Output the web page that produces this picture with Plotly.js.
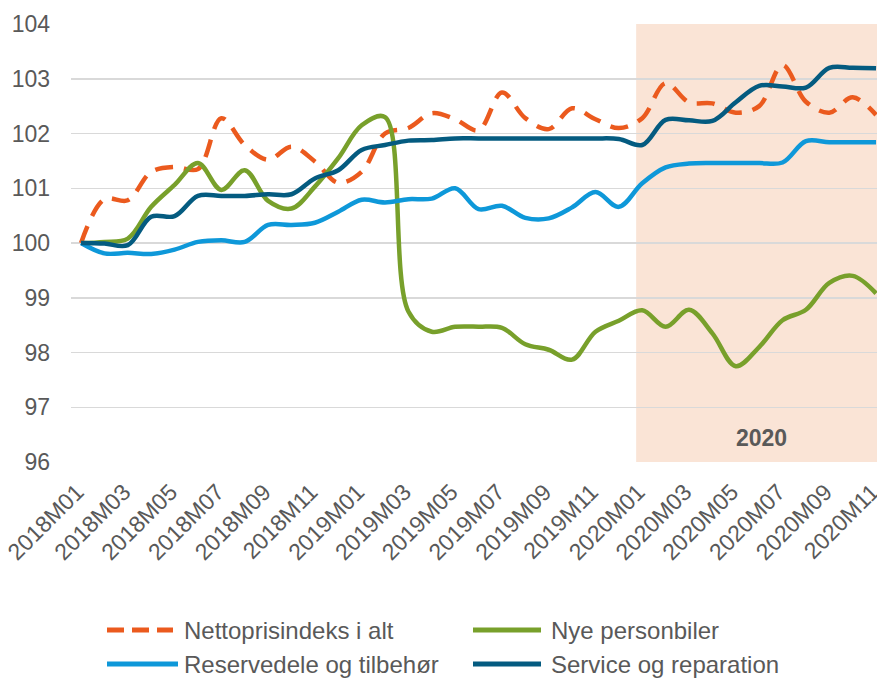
<!DOCTYPE html>
<html>
<head>
<meta charset="utf-8">
<script src="https://cdn.plot.ly/plotly-3.0.1.min.js"></script>
<style>html,body{margin:0;padding:0;background:#fff;}#chart{width:877px;height:679px;}</style>
</head>
<body>
<div id="chart"></div>
<script>
var months = ["2018M01","2018M02","2018M03","2018M04","2018M05","2018M06","2018M07","2018M08","2018M09","2018M10","2018M11","2018M12",
              "2019M01","2019M02","2019M03","2019M04","2019M05","2019M06","2019M07","2019M08","2019M09","2019M10","2019M11","2019M12",
              "2020M01","2020M02","2020M03","2020M04","2020M05","2020M06","2020M07","2020M08","2020M09","2020M10","2020M11"];
var tickLabels = ["2018M01","2018M03","2018M05","2018M07","2018M09","2018M11","2019M01","2019M03","2019M05","2019M07","2019M09","2019M11",
                  "2020M01","2020M03","2020M05","2020M07","2020M09","2020M11"];
var seriesNames = ["Nettoprisindeks i alt","Nye personbiler","Reservedele og tilbehør","Service og reparation"];
var nettopris = [100, 100.8, 100.78, 101.3, 101.39, 101.35, 102.28, 101.79, 101.52, 101.76, 101.49, 101.1,
                 101.3, 102.0, 102.1, 102.37, 102.26, 102.06, 102.75, 102.28, 102.08, 102.46, 102.26, 102.1,
                 102.28, 102.92, 102.57, 102.55, 102.38, 102.5, 103.25, 102.58, 102.38, 102.66, 102.34];
var nyePersonbiler = [100, 100.02, 100.08, 100.66, 101.06, 101.46, 100.97, 101.33, 100.77, 100.63, 101.03, 101.55,
                      102.15, 102.3, 98.75, 98.38, 98.47, 98.47, 98.45, 98.15, 98.05, 97.87, 98.38, 98.58,
                      98.77, 98.47, 98.78, 98.35, 97.75, 98.1, 98.59, 98.78, 99.27, 99.4, 99.08];
var reservedele = [100, 99.81, 99.82, 99.8, 99.88, 100.02, 100.05, 100.02, 100.33, 100.33, 100.37, 100.57,
                   100.79, 100.74, 100.8, 100.81, 101.0, 100.62, 100.68, 100.46, 100.45, 100.65, 100.93, 100.66,
                   101.09, 101.38, 101.45, 101.46, 101.46, 101.46, 101.47, 101.86, 101.84, 101.84, 101.84];
var service = [100, 99.99, 99.96, 100.48, 100.49, 100.86, 100.86, 100.86, 100.89, 100.89, 101.18, 101.33,
               101.7, 101.79, 101.87, 101.88, 101.91, 101.91, 101.91, 101.91, 101.91, 101.91, 101.91, 101.9,
               101.79, 102.25, 102.24, 102.23, 102.57, 102.87, 102.86, 102.84, 103.2, 103.2, 103.19];
var highlightLabel = "2020";
var highlightStart = "2020M01";

var colors = ["#EB5A1E", "#78A02B", "#0E98D9", "#045B80"];
var dashes = ["18px,11px", "solid", "solid", "solid"];
var font = "Liberation Sans, Arial, sans-serif";
var grey = "#595959";

function mk(y, i) {
  return {
    x: months, y: y, name: seriesNames[i], type: "scatter", mode: "lines", showlegend: false,
    line: {color: colors[i], width: 4.5, shape: "spline", smoothing: 1, dash: dashes[i]}
  };
}
var data = [mk(nettopris, 0), mk(nyePersonbiler, 1), mk(reservedele, 2), mk(service, 3)];

// plot area in pixels: left 71, right 877, top 24, bottom 462
var W = 877, H = 679, L = 71, R = 0, T = 24, B = 217;
function px(x) { return (x - L) / (W - L - R); }
function py(y) { return (H - B - y) / (H - T - B); }

var shapes = [{
  type: "rect", xref: "x", yref: "y", layer: "below",
  x0: months.indexOf(highlightStart) - 0.26, x1: 34.04, y0: 96, y1: 104,
  fillcolor: "#FAE4D6", line: {width: 0}
}];
var annotations = [{
  text: "<b>" + highlightLabel + "</b>", xref: "x", yref: "y",
  x: 29.08, y: 96.44, showarrow: false,
  font: {family: font, size: 23, color: grey}
}];
// legend (2 x 2)
var legPos = [[107, 630], [473, 630], [107, 664], [473, 664]];
var legLen = [66, 68, 71, 68];
for (var i = 0; i < 4; i++) {
  var lx = legPos[i][0], ly = legPos[i][1];
  shapes.push({
    type: "line", xref: "paper", yref: "paper",
    x0: px(lx), x1: px(lx + legLen[i]), y0: py(ly), y1: py(ly),
    line: {color: colors[i], width: 5, dash: i === 0 ? "17px,8px" : "solid"}
  });
  annotations.push({
    text: seriesNames[i], xref: "paper", yref: "paper",
    x: px(i % 2 === 0 ? 183 : 550), y: py(ly), xanchor: "left", yanchor: "middle",
    showarrow: false, borderpad: 0, font: {family: font, size: 24, color: grey}
  });
}

var layout = {
  width: W, height: H,
  margin: {l: L, r: R, t: T, b: B},
  paper_bgcolor: "#fff", plot_bgcolor: "#fff",
  font: {family: font, size: 23, color: grey},
  showlegend: false,
  xaxis: {
    type: "category", range: [-0.43, 34.04], automargin: false,
    tickmode: "array", tickvals: tickLabels, ticktext: tickLabels,
    tickangle: -45, showgrid: false, zeroline: false, showline: false,
    ticks: "", ticklabelstandoff: 11, ticklabelshift: -4,
    tickfont: {family: font, size: 23, color: grey}
  },
  yaxis: {
    range: [96, 104], dtick: 1, tick0: 96, automargin: false,
    showgrid: true, gridcolor: "#D9D9D9", gridwidth: 1.5,
    zeroline: false, showline: false, ticks: "", ticklabelstandoff: 20,
    tickfont: {family: font, size: 23, color: grey}
  },
  shapes: shapes,
  annotations: annotations
};
Plotly.newPlot("chart", data, layout, {displayModeBar: false, staticPlot: true});
</script>
</body>
</html>
